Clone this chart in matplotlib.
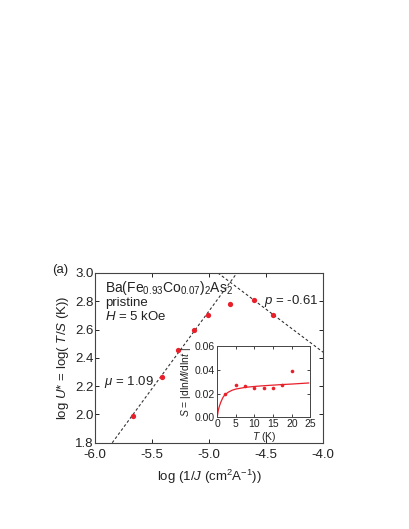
import numpy as np
import matplotlib.pyplot as plt

plt.rcParams["font.family"] = ["Liberation Sans", "DejaVu Sans"]
plt.rcParams["mathtext.fontset"] = "custom"
plt.rcParams["mathtext.rm"] = "Liberation Sans"
plt.rcParams["mathtext.it"] = "Liberation Sans:italic"

# main panel: log U* vs log(1/J)
log_inv_j = [-5.67, -5.414, -5.274, -5.133, -5.005, -4.817, -4.606, -4.443]
log_u = [1.99, 2.266, 2.454, 2.60, 2.70, 2.78, 2.81, 2.70]

# dashed fit lines (endpoints)
fit_mu_x = [-5.848, -4.755]
fit_mu_y = [1.8, 3.0]
fit_p_x = [-4.922, -4.0]
fit_p_y = [3.0, 2.44]

# inset: S vs T
temp = [2, 5, 7.5, 10, 12.5, 15, 17.5, 20]
rate = [0.020, 0.027, 0.026, 0.025, 0.025, 0.0245, 0.027, 0.039]
curve_t = [0.05, 0.3, 0.6, 1.0, 1.5, 2.0, 3.0, 4.0, 5.0, 7.5, 10, 12.5, 15, 17.5, 20, 22.5, 24.5]
curve_s = [0.001, 0.006, 0.0095, 0.013, 0.0165, 0.0188, 0.0212, 0.0228, 0.0238, 0.0252,
           0.0260, 0.0266, 0.0271, 0.0276, 0.0280, 0.0285, 0.0289]

RED = "#e8202a"
INK = "#222222"

fig = plt.figure(figsize=(4.09, 5.29), dpi=100)
ax = fig.add_axes([0.232, 0.163, 0.558, 0.321])

ax.plot(fit_mu_x, fit_mu_y, ls=(0, (2.5, 2)), color="#333333", lw=0.8)
ax.plot(fit_p_x, fit_p_y, ls=(0, (2.5, 2)), color="#333333", lw=0.8)
ax.plot(log_inv_j, log_u, "o", color=RED, ms=3.8, mec="none", zorder=3)

ax.set_xlim(-6.0, -4.0)
ax.set_ylim(1.8, 3.0)
ax.set_xticks(np.arange(-6.0, -3.99, 0.5))
ax.set_yticks(np.arange(1.8, 3.01, 0.2))
ax.xaxis.set_major_formatter(plt.FormatStrFormatter("%.1f"))
ax.yaxis.set_major_formatter(plt.FormatStrFormatter("%.1f"))
ax.tick_params(direction="in", top=True, right=True, labelsize=9.5, length=3, width=0.7, colors=INK)
ax.tick_params(axis="x", pad=4.5)
ax.tick_params(axis="y", pad=1.0)
for s in ax.spines.values():
    s.set_linewidth(0.8)
    s.set_color("#444444")

ax.set_xlabel(r"log (1/$\it{J}$ (cm$^2$A$^{-1}$))", fontsize=9.5, labelpad=5, color=INK)
ax.set_ylabel(r"log $\it{U}$* = log( $\it{T}$/$\it{S}$ (K))", fontsize=9.5, labelpad=3, color=INK)

ax.text(-5.91, 2.895, r"Ba(Fe$_{0.93}$Co$_{0.07}$)$_2$As$_2$", fontsize=10, va="center", color=INK)
ax.text(-5.91, 2.79, "pristine", fontsize=9.5, va="center", color=INK)
ax.text(-5.91, 2.695, r"$\it{H}$ = 5 kOe", fontsize=9.5, va="center", color=INK)
ax.text(-5.92, 2.226, r"$\it{\mu}$ = 1.09", fontsize=9.5, va="center", color=INK)
ax.text(-4.52, 2.80, r"$\it{p}$ = -0.61", fontsize=9.5, va="center", color=INK)
fig.text(0.127, 0.49, "(a)", fontsize=9.5, va="center", color=INK)

ins = fig.add_axes([0.531, 0.211, 0.228, 0.135])
ins.plot(curve_t, curve_s, color=RED, lw=0.9)
ins.plot(temp, rate, "o", color=RED, ms=2.6, mec="none")
ins.set_xlim(0, 25)
ins.set_ylim(0, 0.06)
ins.set_xticks(np.arange(0, 26, 5))
ins.set_yticks(np.arange(0, 0.061, 0.02))
ins.yaxis.set_major_formatter(plt.FormatStrFormatter("%.2f"))
ins.tick_params(direction="in", top=True, right=True, labelsize=7.5, length=2.5, width=0.6, pad=1.5, colors=INK)
for s in ins.spines.values():
    s.set_linewidth(0.7)
    s.set_color("#444444")
ins.set_xlabel(r"$\it{T}$ (K)", fontsize=7.5, labelpad=0.5, color=INK)
ins.set_ylabel(r"$\it{S}$ = |dln$\it{M}$/dln$\it{t}$ |", fontsize=7.5, labelpad=1.5, color=INK)

fig.savefig("out.png", dpi=100)
